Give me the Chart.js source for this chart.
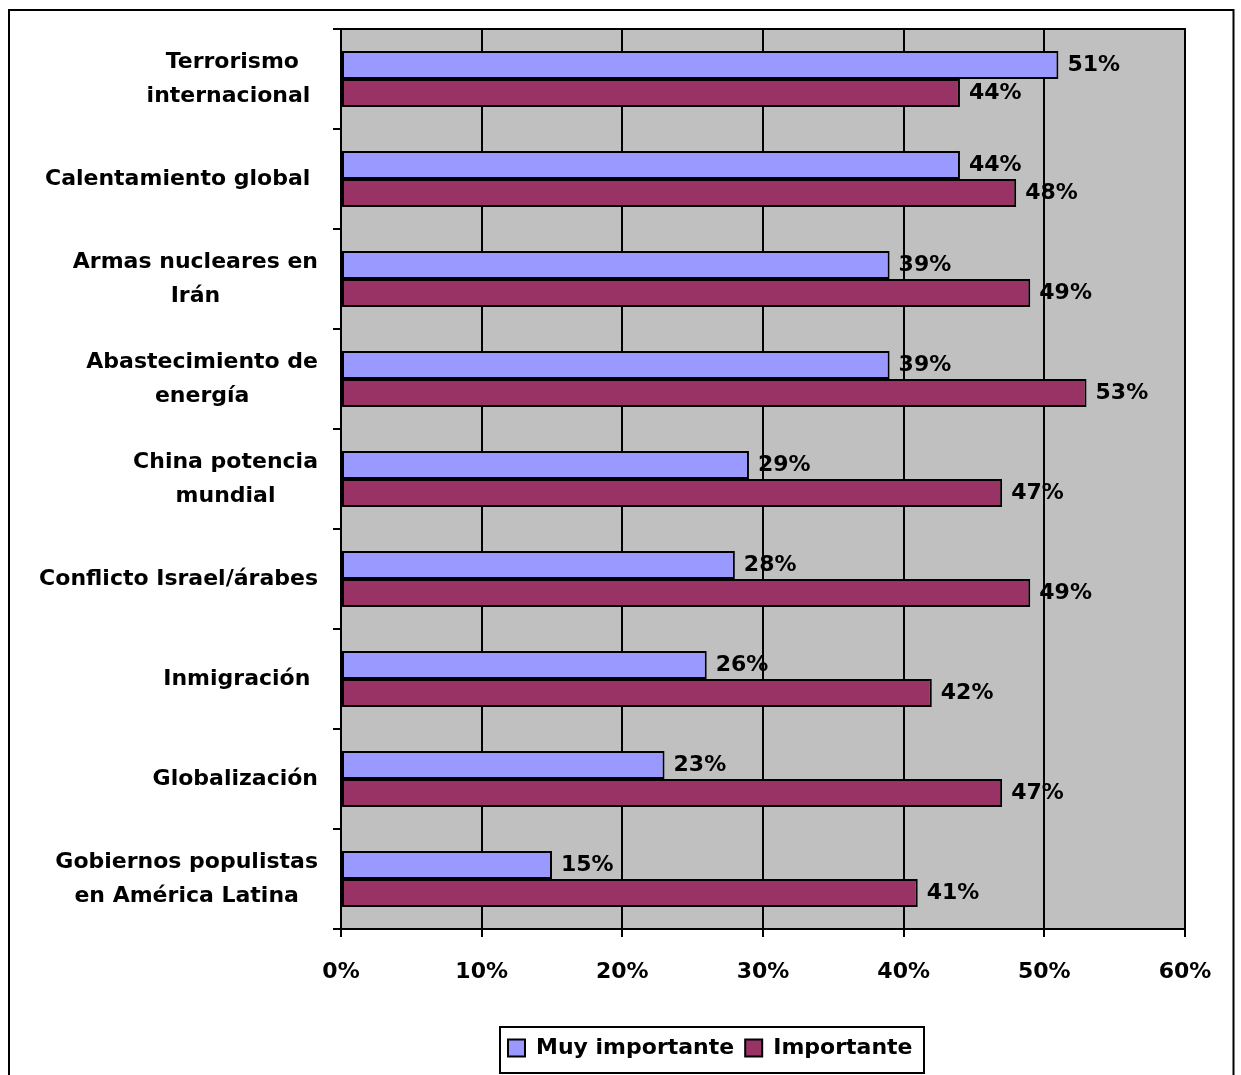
<!DOCTYPE html>
<html>
<head>
<meta charset="utf-8">
<script src="https://cdn.jsdelivr.net/npm/chart.js@4/dist/chart.umd.min.js"></script>
<style>
  html, body { margin: 0; padding: 0; background: #fff; }
  #wrap { width: 1241px; height: 1075px; position: relative; }
</style>
</head>
<body>
<div id="wrap"><canvas id="c" width="1241" height="1075"></canvas></div>
<script>
const categories = [
  ["Terrorismo", "internacional "],
  "Calentamiento global ",
  ["Armas nucleares en", "Irán"],
  ["Abastecimiento de", "energía"],
  ["China potencia", "mundial"],
  "Conflicto Israel/árabes",
  "Inmigración ",
  "Globalización",
  ["Gobiernos populistas", "en América Latina"]
];
const muyImportante = [51, 44, 39, 39, 29, 28, 26, 23, 15];
const importante    = [44, 48, 49, 53, 47, 49, 42, 47, 41];
const seriesNames = ["Muy importante", "Importante"];
const xTicks = [0, 10, 20, 30, 40, 50, 60];

const FONT = '"DejaVu Sans", Arial, sans-serif';
Chart.defaults.font.family = FONT;
Chart.defaults.color = '#000';

const PLOT = { left: 341, right: 1185, top: 29, bottom: 929 };
const LABEL_RIGHT = 318;
const LABEL_LINE = 34;

const decor = {
  id: 'decor',
  beforeDraw(chart) {
    const ctx = chart.ctx, a = chart.chartArea;
    ctx.save();
    ctx.fillStyle = '#fff';
    ctx.fillRect(0, 0, chart.width, chart.height);
    ctx.fillStyle = '#C0C0C0';
    ctx.fillRect(a.left, a.top, a.right - a.left, a.bottom - a.top);
    ctx.restore();
  },
  afterLayout(chart) {
    const lg = chart.legend;
    if (lg) {
      const pad = 11;
      lg.left = 508 - pad; lg.right = 924; lg.width = lg.right - lg.left;
      lg.top = 1026; lg.bottom = 1073; lg.height = lg.bottom - lg.top;
    }
  },
  afterDatasetsDraw(chart) {
    const ctx = chart.ctx;
    ctx.save();
    ctx.font = 'bold 22px ' + FONT;
    ctx.fillStyle = '#000';
    ctx.textAlign = 'left';
    ctx.textBaseline = 'middle';
    chart.data.datasets.forEach((ds, i) => {
      chart.getDatasetMeta(i).data.forEach((bar, j) => {
        ctx.fillText(ds.data[j] + '%', bar.x + 9, bar.y);
      });
    });
    ctx.restore();
  },
  afterDraw(chart) {
    const ctx = chart.ctx, a = chart.chartArea;
    ctx.save();
    // category labels: block right-aligned, lines centered within block
    const ys = chart.scales.y;
    ctx.font = 'bold 22px ' + FONT;
    ctx.fillStyle = '#000';
    ctx.textAlign = 'center';
    ctx.textBaseline = 'middle';
    chart.data.labels.forEach((lab, i) => {
      const lines = Array.isArray(lab) ? lab : [lab];
      const w = Math.max(...lines.map(l => ctx.measureText(l).width));
      const cx = LABEL_RIGHT - w / 2;
      const cy = ys.getPixelForTick(i);
      lines.forEach((l, k) => {
        const lw = ctx.measureText(l).width;
        // center text by its full width (including trailing spaces)
        ctx.textAlign = 'left';
        ctx.fillText(l, cx - lw / 2, cy + (k - (lines.length - 1) / 2) * LABEL_LINE);
      });
    });
    ctx.strokeStyle = '#000';
    ctx.lineWidth = 2;
    ctx.strokeRect(a.left, a.top, a.right - a.left, a.bottom - a.top);
    ctx.strokeRect(500, 1027, 424, 46);
    ctx.strokeRect(9, 10, 1224.5, 1200);
    ctx.restore();
  }
};

new Chart(document.getElementById('c'), {
  type: 'bar',
  data: {
    labels: categories,
    datasets: [
      { label: seriesNames[0], data: muyImportante, backgroundColor: '#9999FF', borderColor: '#000', borderWidth: 2, borderSkipped: false },
      { label: seriesNames[1], data: importante, backgroundColor: '#993366', borderColor: '#000', borderWidth: 2, borderSkipped: false }
    ]
  },
  options: {
    indexAxis: 'y',
    responsive: false,
    animation: false,
    events: [],
    layout: { padding: { top: PLOT.top, right: 1241 - PLOT.right, bottom: 0, left: 0 } },
    datasets: { bar: { categoryPercentage: 0.56, barPercentage: 1.0 } },
    plugins: {
      tooltip: { enabled: false },
      legend: {
        position: 'bottom',
        align: 'start',
        labels: {
          boxWidth: 17, boxHeight: 17, padding: 11,
          font: { size: 22, weight: 'bold', family: FONT },
          color: '#000'
        }
      }
    },
    scales: {
      x: {
        min: 0, max: 60,
        afterBuildTicks(scale) { scale.ticks = xTicks.map(v => ({ value: v })); },
        afterFit(scale) {
          const lh = scale.chart.legend ? scale.chart.legend.height : 0;
          scale.height = 1075 - lh - PLOT.bottom;
          scale.paddingLeft = 0; scale.paddingRight = 0;
        },
        ticks: {
          callback: v => v + '%',
          font: { size: 22, weight: 'bold' },
          color: '#000',
          padding: 22,
          maxRotation: 0
        },
        grid: { color: '#000', lineWidth: 2, tickLength: 8, drawTicks: true },
        border: { display: true, color: '#000', width: 2 }
      },
      y: {
        afterFit(scale) {
          scale.width = PLOT.left;
          scale.paddingTop = 0; scale.paddingBottom = 0;
        },
        ticks: { display: false, autoSkip: false },
        grid: { drawOnChartArea: false, color: '#000', lineWidth: 2, tickLength: 8, offset: true, drawTicks: true },
        border: { display: true, color: '#000', width: 2 }
      }
    }
  },
  plugins: [decor]
});
</script>
</body>
</html>
